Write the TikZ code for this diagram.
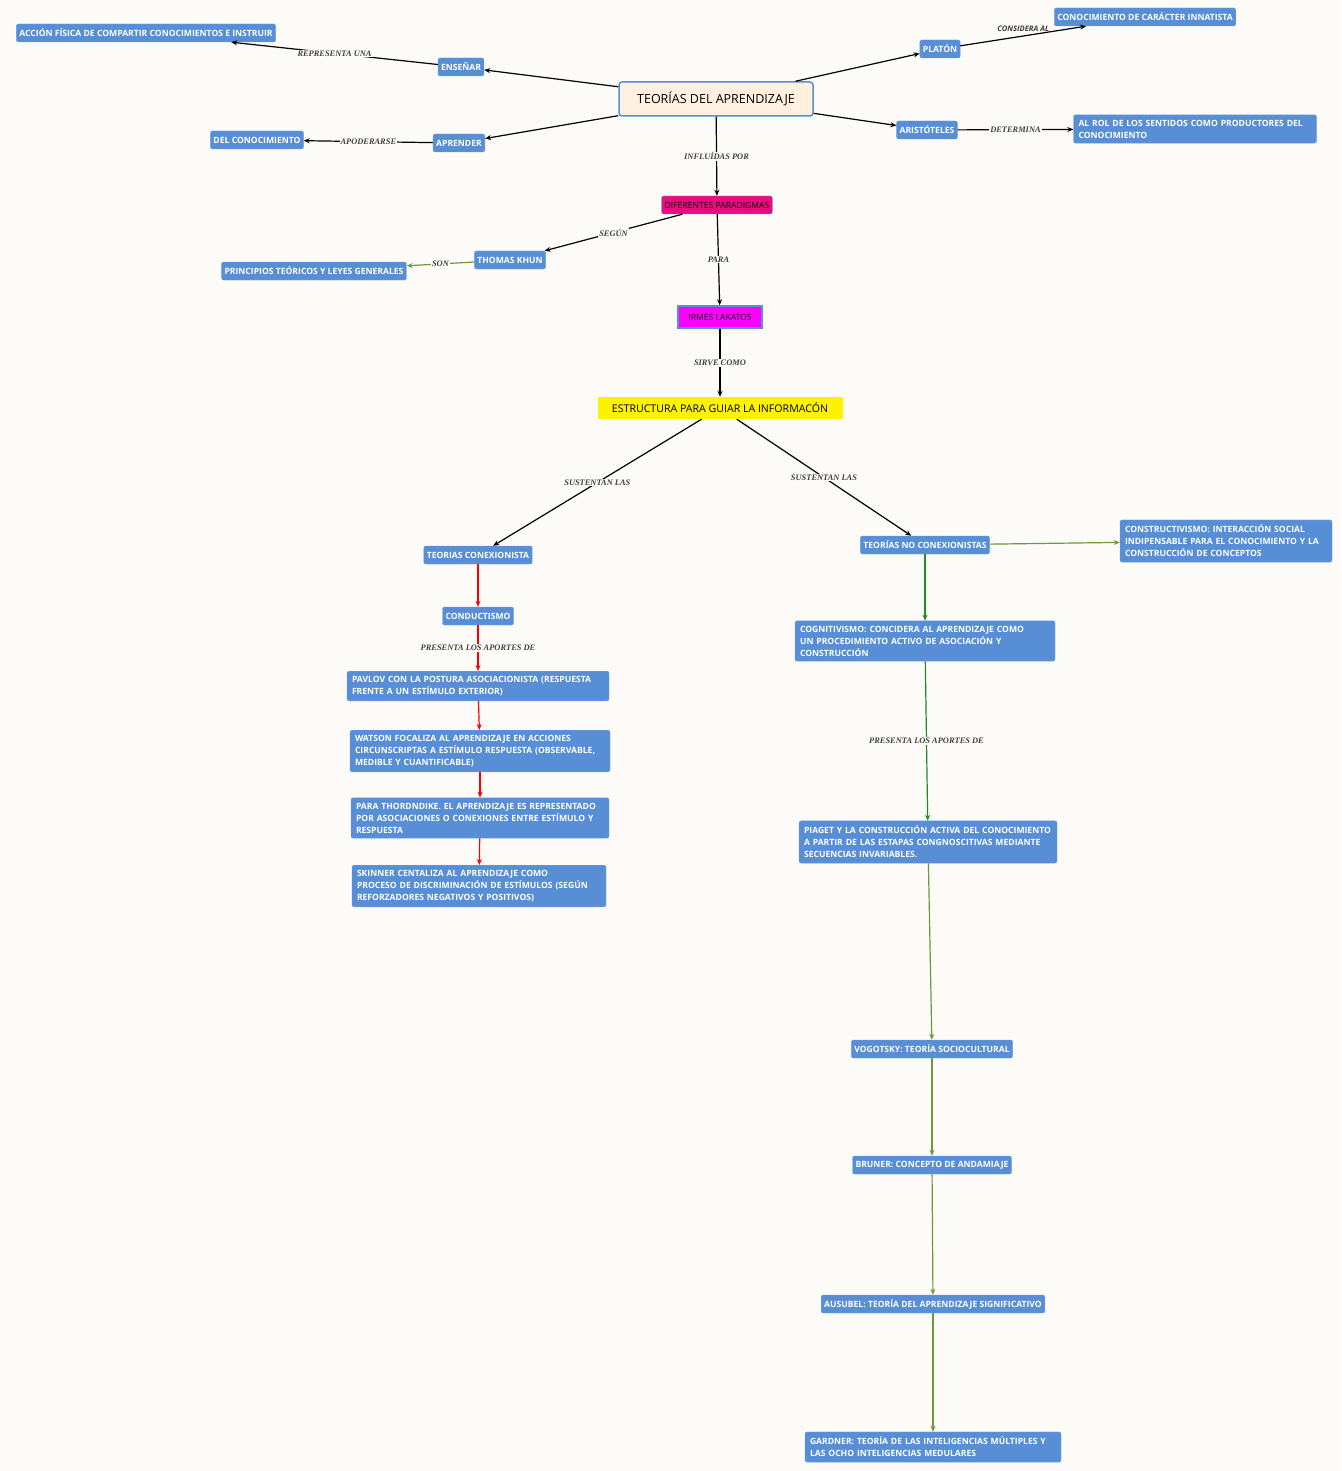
\documentclass[tikz,border=0pt]{standalone}
\usepackage{fontspec}
\setmainfont{Open Sans}
\newfontfamily\lblfont{Liberation Serif}
\usetikzlibrary{arrows.meta}
\newcommand{\nohyph}{\hyphenpenalty=10000\relax\exhyphenpenalty=10000\relax}
\definecolor{bgc}{HTML}{FDFBF7}
\definecolor{boxblue}{HTML}{578ED6}
\definecolor{olive}{HTML}{6B9A3A}
\definecolor{dgreen}{HTML}{1E8B23}
\definecolor{paradpink}{HTML}{EB0A80}
\definecolor{lakmag}{HTML}{FF00FF}
\tikzset{
  box/.style={draw=boxblue!85!white, fill=boxblue, rounded corners=2pt, text=white,
    font=\fontsize{8.6}{12}\selectfont\bfseries\nohyph,
    inner sep=3pt, minimum height=18pt},
  wbox/.style={box, align=left, text width=#1, inner sep=5pt},
  lbl/.style={fill=bgc, inner sep=1pt, text=black!75,
    font=\lblfont\fontsize{8.4}{9}\selectfont\bfseries\itshape},
  arr/.style={-{Stealth[length=6pt,width=5pt]}, line width=1.2pt},
}
\begin{document}
\begin{tikzpicture}[x=1pt, y=-1pt]
\fill[bgc] (0,0) rectangle (1341,1471);
\useasboundingbox (0,0) rectangle (1341,1471);
% centro
\node[draw=boxblue, line width=1.5pt, fill=orange!12, rounded corners=3pt, minimum width=194pt,
  minimum height=34pt, font=\fontsize{12.5}{14}\selectfont] (main) at (716,99) {TEORÍAS DEL APRENDIZAJE};
\node[box] (ensenar) at (461,67) {ENSEÑAR};
\node[box] (accion) at (146,33) {ACCIÓN FÍSICA DE COMPARTIR CONOCIMIENTOS E INSTRUIR};
\node[box] (aprender) at (459,143) {APRENDER};
\node[box] (delconoc) at (257,140) {DEL CONOCIMIENTO};
\node[box] (platon) at (940,49) {PLATÓN};
\node[box] (innat) at (1145,17) {CONOCIMIENTO DE CARÁCTER INNATISTA};
\node[box] (arist) at (927,130) {ARISTÓTELES};
\node[wbox=233pt] (rol) at (1195,129) {AL ROL DE LOS SENTIDOS COMO PRODUCTORES DEL CONOCIMIENTO};
% paradigmas
\node[box, fill=paradpink, text=black, font=\fontsize{8.6}{10}\selectfont] (parad) at (717,205) {DIFERENTES PARADIGMAS};
\node[box] (khun) at (510,260) {THOMAS KHUN};
\node[box] (princ) at (314,271) {PRINCIPIOS TEÓRICOS Y LEYES GENERALES};
\node[draw=boxblue, line width=1.5pt, fill=lakmag, text=black, minimum width=84pt, minimum height=22pt,
  font=\fontsize{8.6}{10}\selectfont] (lakatos) at (720,317) {IRMES LAKATOS};
\node[fill=yellow, minimum width=245pt, minimum height=22pt, font=\fontsize{10.6}{12}\selectfont] (estruc) at (720,408) {ESTRUCTURA PARA GUIAR LA INFORMACÓN};
% conexionistas
\node[box] (conex) at (478,555) {TEORIAS CONEXIONISTA};
\node[box] (conduct) at (478,616) {CONDUCTISMO};
\node[wbox=252pt] (pavlov) at (478,686) {PAVLOV CON LA POSTURA ASOCIACIONISTA (RESPUESTA FRENTE A UN ESTÍMULO EXTERIOR)};
\node[wbox=250pt] (watson) at (480,751) {WATSON FOCALIZA AL APRENDIZAJE EN ACCIONES CIRCUNSCRIPTAS A ESTÍMULO RESPUESTA (OBSERVABLE, MEDIBLE Y CUANTIFICABLE)};
\node[wbox=248pt] (thorn) at (480,818) {PARA THORDNDIKE. EL APRENDIZAJE ES REPRESENTADO POR ASOCIACIONES O CONEXIONES ENTRE ESTÍMULO Y RESPUESTA};
\node[wbox=244pt] (skinner) at (479,886) {SKINNER CENTALIZA AL APRENDIZAJE COMO PROCESO DE DISCRIMINACIÓN DE ESTÍMULOS (SEGÚN REFORZADORES NEGATIVOS Y POSITIVOS)};
% no conexionistas
\node[box] (noconex) at (925,545) {TEORÍAS NO CONEXIONISTAS};
\node[wbox=202pt] (constr) at (1226,541) {CONSTRUCTIVISMO: INTERACCIÓN SOCIAL INDIPENSABLE PARA EL CONOCIMIENTO Y LA CONSTRUCCIÓN DE CONCEPTOS};
\node[wbox=250pt] (cognit) at (925,641) {COGNITIVISMO: CONCIDERA AL APRENDIZAJE COMO UN PROCEDIMIENTO ACTIVO DE ASOCIACIÓN Y CONSTRUCCIÓN};
\node[wbox=248pt] (piaget) at (928,842) {PIAGET Y LA CONSTRUCCIÓN ACTIVA DEL CONOCIMIENTO A PARTIR DE LAS ESTAPAS CONGNOSCITIVAS MEDIANTE SECUENCIAS INVARIABLES.};
\node[box] (vygot) at (932,1049) {VOGOTSKY: TEORÍA SOCIOCULTURAL};
\node[box] (bruner) at (932,1165) {BRUNER: CONCEPTO DE ANDAMIAJE};
\node[box] (ausub) at (933,1304) {AUSUBEL: TEORÍA DEL APRENDIZAJE SIGNIFICATIVO};
\node[wbox=246pt] (gardner) at (933,1447) {GARDNER: TEORÍA DE LAS INTELIGENCIAS MÚLTIPLES Y LAS OCHO INTELIGENCIAS MEDULARES};
% conectores
\draw[arr] (main) -- (ensenar);
\draw[arr] (ensenar) -- node[lbl] {REPRESENTA UNA} (accion);
\draw[arr] (main) -- (aprender);
\draw[arr] (aprender) -- node[lbl] {APODERARSE} (delconoc);
\draw[arr] (main) -- (platon);
\draw[arr] (platon) -- node[lbl, fill=none, above=3pt, font=\fontsize{7.6}{8}\selectfont\itshape\bfseries] {CONSIDERA AL} (innat);
\draw[arr] (main) -- (arist);
\draw[arr] (arist) -- node[lbl] {DETERMINA} (rol);
\draw[arr] (main) -- node[lbl] {INFLUÍDAS POR} (parad);
\draw[arr] (parad) -- node[lbl] {SEGÚN} (khun);
\draw[arr, olive] (khun) -- node[lbl] {SON} (princ);
\draw[arr] (parad) -- node[lbl] {PARA} (lakatos);
\draw[arr] (lakatos) -- node[lbl] {SIRVE COMO} (estruc);
\draw[arr] (estruc) -- node[lbl] {SUSTENTAN LAS} (conex);
\draw[arr] (estruc) -- node[lbl] {SUSTENTAN LAS} (noconex);
\draw[arr, red] (conex) -- (conduct);
\draw[arr, red] (conduct) -- node[lbl] {PRESENTA LOS APORTES DE} (pavlov);
\draw[arr, red] (pavlov) -- (watson);
\draw[arr, red] (watson) -- (thorn);
\draw[arr, red] (thorn) -- (skinner);
\draw[arr, olive] (noconex) -- (constr);
\draw[arr, dgreen] (noconex) -- (cognit);
\draw[arr, dgreen] (cognit) -- node[lbl] {PRESENTA LOS APORTES DE} (piaget);
\draw[arr, olive] (piaget) -- (vygot);
\draw[arr, olive] (vygot) -- (bruner);
\draw[arr, olive] (bruner) -- (ausub);
\draw[arr, olive] (ausub) -- (gardner);
\end{tikzpicture}
\end{document}
